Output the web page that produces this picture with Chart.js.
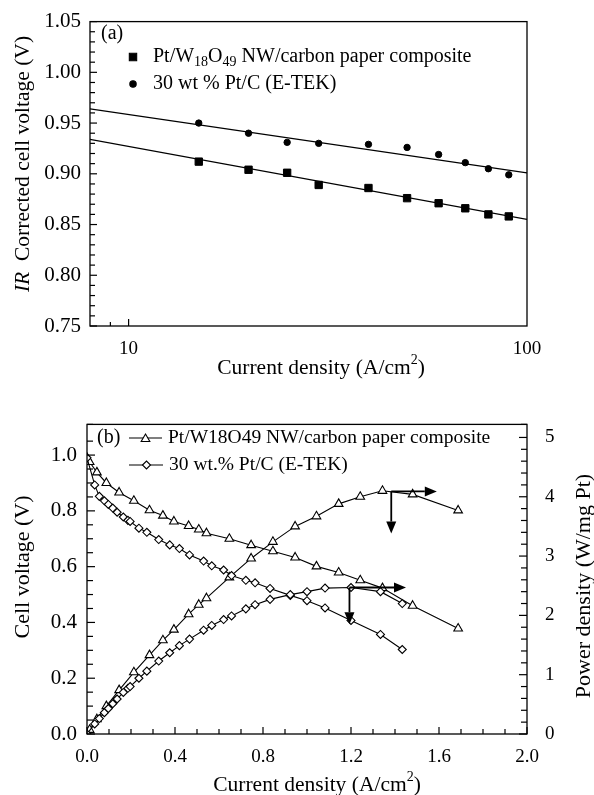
<!DOCTYPE html>
<html>
<head>
<meta charset="utf-8">
<script src="https://cdn.jsdelivr.net/npm/chart.js@4.4.1/dist/chart.umd.min.js"></script>
<style>
  html, body { margin: 0; padding: 0; background: #fff; }
  #wrap { position: relative; width: 594px; height: 795px; }
  canvas { position: absolute; left: 0; }
  #ca { top: 0; }
  #cb { top: 395px; }
</style>
</head>
<body>
<div id="wrap">
  <canvas id="ca" width="594" height="390" style="width:594px;height:390px"></canvas>
  <canvas id="cb" width="594" height="400" style="width:594px;height:400px"></canvas>
</div>
<script>
// ---------- (a) IR corrected cell voltage vs current density (log) ----------
const currentA = [15, 20, 25, 30, 40, 50, 60, 70, 80, 90];
const voltPtW = [0.912, 0.904, 0.901, 0.889, 0.886, 0.876, 0.871, 0.866, 0.860, 0.858];
const voltEtek = [0.950, 0.940, 0.931, 0.930, 0.929, 0.926, 0.919, 0.911, 0.905, 0.899];
// fitted lines, value at both ends of the axis
const fitX = [8, 100];
const fitPtW = [0.934, 0.855];
const fitEtek = [0.964, 0.901];

// ---------- (b) polarization and power density curves ----------
const ptwI = [0, 0.012, 0.045, 0.088, 0.146, 0.213, 0.284, 0.345, 0.395, 0.462, 0.508,
              0.543, 0.647, 0.746, 0.845, 0.946, 1.043, 1.144, 1.242, 1.343, 1.48, 1.687];
const ptwV = [0.99, 0.975, 0.938, 0.900, 0.866, 0.836, 0.802, 0.783, 0.762, 0.746, 0.733,
              0.720, 0.700, 0.677, 0.655, 0.633, 0.601, 0.579, 0.551, 0.523, 0.460, 0.378];
const ptwP = [0, 0.07, 0.25, 0.47, 0.74, 1.04, 1.33, 1.58, 1.76, 2.02, 2.18,
              2.29, 2.64, 2.96, 3.24, 3.50, 3.67, 3.88, 4.00, 4.10, 4.04, 3.77];

const etekI = [0, 0.035, 0.056, 0.079, 0.097, 0.117, 0.137, 0.165, 0.186, 0.196, 0.236,
               0.272, 0.326, 0.376, 0.420, 0.466, 0.530, 0.567, 0.621, 0.657, 0.722,
               0.764, 0.832, 0.924, 1.0, 1.082, 1.20, 1.334, 1.433];
const etekV = [0.99, 0.893, 0.852, 0.836, 0.823, 0.810, 0.795, 0.778, 0.766, 0.762, 0.738,
               0.723, 0.697, 0.678, 0.665, 0.642, 0.620, 0.603, 0.588, 0.568, 0.551,
               0.542, 0.522, 0.497, 0.478, 0.452, 0.407, 0.357, 0.303];
const etekP = [0, 0.17, 0.26, 0.36, 0.43, 0.51, 0.59, 0.70, 0.77, 0.80, 0.94,
               1.06, 1.23, 1.37, 1.49, 1.60, 1.75, 1.83, 1.93, 1.99, 2.11,
               2.18, 2.27, 2.35, 2.40, 2.46, 2.47, 2.40, 2.20];

// arrows pointing to the axis each curve belongs to: [x, power] start, right end x, down end power
const arrowStart = [[1.383, 4.09], [1.193, 2.47]];
const arrowRightTo = [1.59, 1.45];
const arrowDownTo = [3.38, 1.85];

const FONT = '"Liberation Serif", "Times New Roman", serif';
const f = (size, style) => (style ? style + ' ' : '') + size + 'px ' + FONT;

// draw a row of text pieces (mixed fonts), optionally rotated
function textParts(ctx, parts, x, y, rot, align) {
  ctx.save();
  ctx.translate(x, y);
  if (rot) ctx.rotate(rot);
  ctx.fillStyle = '#000';
  ctx.textBaseline = 'middle';
  ctx.textAlign = 'left';
  let w = 0;
  parts.forEach(p => { ctx.font = p.font; w += ctx.measureText(p.text).width; });
  let cx = align === 'left' ? 0 : -w / 2;
  parts.forEach(p => {
    ctx.font = p.font;
    ctx.fillText(p.text, cx, p.dy || 0);
    cx += ctx.measureText(p.text).width;
  });
  ctx.restore();
}

function frame(chart) {
  const a = chart.chartArea, ctx = chart.ctx;
  ctx.save();
  ctx.strokeStyle = '#000';
  ctx.lineWidth = 1.3;
  ctx.strokeRect(a.left, a.top, a.right - a.left, a.bottom - a.top);
  ctx.restore();
}

// tick marks pointing into the plot, longer where there is a label
function inTicks(chart, id, side, majorLen, minorLen, keep) {
  const s = chart.scales[id], a = chart.chartArea, ctx = chart.ctx;
  ctx.save();
  ctx.strokeStyle = '#000';
  ctx.lineWidth = 1.2;
  s.ticks.forEach(t => {
    if (keep && !keep(t.value)) return;
    const p = s.getPixelForValue(t.value);
    const len = t.label !== '' ? majorLen : minorLen;
    ctx.beginPath();
    if (side === 'left') { ctx.moveTo(a.left, p); ctx.lineTo(a.left + len, p); }
    if (side === 'right') { ctx.moveTo(a.right, p); ctx.lineTo(a.right - len, p); }
    if (side === 'bottom') { ctx.moveTo(p, a.bottom); ctx.lineTo(p, a.bottom - len); }
    ctx.stroke();
  });
  ctx.restore();
}

function marker(ctx, style, r, fill, x, y) {
  ctx.save();
  ctx.fillStyle = fill;
  ctx.strokeStyle = '#000';
  ctx.lineWidth = 1.1;
  Chart.helpers.drawPoint(ctx, { pointStyle: style, radius: r, rotation: 0, borderWidth: 1.1 }, x, y);
  ctx.restore();
}

function arrow(ctx, x1, y1, x2, y2) {
  const ang = Math.atan2(y2 - y1, x2 - x1), L = 12, W = 5;
  const bx = x2 - L * Math.cos(ang), by = y2 - L * Math.sin(ang);
  ctx.beginPath();
  ctx.moveTo(x1, y1);
  ctx.lineTo(bx, by);
  ctx.stroke();
  ctx.beginPath();
  ctx.moveTo(x2, y2);
  ctx.lineTo(bx + W * Math.sin(ang), by - W * Math.cos(ang));
  ctx.lineTo(bx - W * Math.sin(ang), by + W * Math.cos(ang));
  ctx.closePath();
  ctx.fill();
}

const xTitle = size => [
  { text: 'Current density (A/cm', font: f(size) },
  { text: '2', font: f(Math.round(size * 0.65)), dy: -8 },
  { text: ')', font: f(size) }
];

const decoA = {
  id: 'decoA',
  afterDraw(chart) {
    const ctx = chart.ctx;
    frame(chart);
    inTicks(chart, 'y', 'left', 7, 5);
    inTicks(chart, 'x', 'bottom', 7, 4, v => v > 8 && v <= 10);
    textParts(ctx, xTitle(21.5), 321, 368);
    textParts(ctx, [
      { text: 'IR', font: f(21.5, 'italic') },
      { text: '  Corrected cell voltage (V)', font: f(21.5) }
    ], 23, 164, -Math.PI / 2);
    textParts(ctx, [{ text: '(a)', font: f(20) }], 101, 34, 0, 'left');
    marker(ctx, 'rect', 5.2, '#000', 133, 57);
    textParts(ctx, [
      { text: 'Pt/W', font: f(20) },
      { text: '18', font: f(14), dy: 5 },
      { text: 'O', font: f(20) },
      { text: '49', font: f(14), dy: 5 },
      { text: ' NW/carbon paper composite', font: f(20) }
    ], 153, 57, 0, 'left');
    marker(ctx, 'circle', 3.2, '#000', 133, 84);
    textParts(ctx, [{ text: '30 wt % Pt/C (E-TEK)', font: f(20) }], 153, 84, 0, 'left');
  }
};

const decoB = {
  id: 'decoB',
  afterDraw(chart) {
    const ctx = chart.ctx, sx = chart.scales.x, sp = chart.scales.y2;
    frame(chart);
    inTicks(chart, 'y', 'left', 8, 6);
    inTicks(chart, 'y2', 'right', 8, 6);
    inTicks(chart, 'x', 'bottom', 7, 5);
    textParts(ctx, xTitle(21.5), 317, 390);
    textParts(ctx, [{ text: 'Cell voltage (V)', font: f(22) }], 23, 172, -Math.PI / 2);
    textParts(ctx, [{ text: 'Power density (W/mg Pt)', font: f(22) }], 584, 191, -Math.PI / 2);

    // legend
    textParts(ctx, [{ text: '(b)', font: f(20) }], 97, 43, 0, 'left');
    ctx.save();
    ctx.strokeStyle = '#000';
    ctx.lineWidth = 1.1;
    ctx.beginPath(); ctx.moveTo(129, 43); ctx.lineTo(162, 43); ctx.stroke();
    ctx.beginPath(); ctx.moveTo(129, 70); ctx.lineTo(163, 70); ctx.stroke();
    ctx.restore();
    marker(ctx, 'triangle', 5, '#fff', 145.5, 44);
    marker(ctx, 'rectRot', 4, '#fff', 146.5, 70);
    textParts(ctx, [{ text: 'Pt/W18O49 NW/carbon paper composite', font: f(19.5) }], 168, 43, 0, 'left');
    textParts(ctx, [{ text: '30 wt.% Pt/C (E-TEK)', font: f(19.5) }], 169, 70, 0, 'left');

    // arrows
    ctx.save();
    ctx.strokeStyle = '#000';
    ctx.fillStyle = '#000';
    ctx.lineWidth = 1.8;
    arrowStart.forEach((s, i) => {
      const x0 = sx.getPixelForValue(s[0]), y0 = sp.getPixelForValue(s[1]);
      arrow(ctx, x0, y0, sx.getPixelForValue(arrowRightTo[i]), y0);
      arrow(ctx, x0, y0, x0, sp.getPixelForValue(arrowDownTo[i]));
    });
    ctx.restore();
  }
};

const xTickFont = { family: FONT, size: 19 };
const yTickFont = { family: FONT, size: 21 };
const noGrid = { display: false, drawTicks: false };
const pts = (xs, ys) => xs.map((x, i) => ({ x: x, y: ys[i] }));

new Chart(document.getElementById('ca'), {
  type: 'scatter',
  data: {
    datasets: [
      { data: pts(fitX, fitEtek), showLine: true, pointRadius: 0, borderColor: '#000', borderWidth: 1.2 },
      { data: pts(fitX, fitPtW), showLine: true, pointRadius: 0, borderColor: '#000', borderWidth: 1.2 },
      { data: pts(currentA, voltPtW), pointStyle: 'rect', pointRadius: 5.2,
        pointBackgroundColor: '#000', pointBorderColor: '#000', pointBorderWidth: 1 },
      { data: pts(currentA, voltEtek), pointStyle: 'circle', pointRadius: 3.2,
        pointBackgroundColor: '#000', pointBorderColor: '#000', pointBorderWidth: 1 }
    ]
  },
  options: {
    responsive: false,
    animation: false,
    events: [],
    layout: { padding: { top: 18, right: 67, left: 0, bottom: 0 } },
    plugins: { legend: { display: false }, tooltip: { enabled: false } },
    scales: {
      x: {
        type: 'logarithmic', min: 8, max: 100,
        grid: noGrid, border: { display: false },
        ticks: {
          autoSkip: false, maxRotation: 0, padding: 12, color: '#000', font: xTickFont,
          callback: v => (Math.abs(v - 10) < 1e-9 || Math.abs(v - 100) < 1e-9) ? String(Math.round(v)) : ''
        },
        afterFit: s => { s.height = 64; }
      },
      y: {
        min: 0.75, max: 1.05,
        grid: noGrid, border: { display: false },
        ticks: {
          stepSize: 0.01, autoSkip: false, padding: 9, color: '#000', font: yTickFont,
          callback: v => Math.round(v * 100) % 5 === 0 ? v.toFixed(2) : ''
        },
        afterFit: s => { s.width = 90; }
      }
    }
  },
  plugins: [decoA]
});

const openTri = { pointStyle: 'triangle', pointRadius: 5, pointBackgroundColor: '#fff',
  pointBorderColor: '#000', pointBorderWidth: 1.1, borderColor: '#000', borderWidth: 1.1, showLine: true };
const openDia = { pointStyle: 'rectRot', pointRadius: 4, pointBackgroundColor: '#fff',
  pointBorderColor: '#000', pointBorderWidth: 1.1, borderColor: '#000', borderWidth: 1.1, showLine: true };

new Chart(document.getElementById('cb'), {
  type: 'scatter',
  data: {
    datasets: [
      Object.assign({ data: pts(etekI, etekP), yAxisID: 'y2' }, openDia),
      Object.assign({ data: pts(etekI, etekV), yAxisID: 'y' }, openDia),
      Object.assign({ data: pts(ptwI, ptwP), yAxisID: 'y2' }, openTri),
      Object.assign({ data: pts(ptwI, ptwV), yAxisID: 'y' }, openTri)
    ]
  },
  options: {
    responsive: false,
    animation: false,
    events: [],
    layout: { padding: { top: 22, right: 0, left: 0, bottom: 0 } },
    plugins: { legend: { display: false }, tooltip: { enabled: false } },
    scales: {
      x: {
        type: 'linear', min: 0, max: 2,
        grid: noGrid, border: { display: false },
        ticks: {
          stepSize: 0.1, autoSkip: false, maxRotation: 0, padding: 12, color: '#000', font: xTickFont,
          callback: v => Math.abs(v / 0.4 - Math.round(v / 0.4)) < 1e-6 ? v.toFixed(1) : ''
        },
        afterFit: s => { s.height = 61; }
      },
      y: {
        position: 'left', min: 0, max: 1.11,
        grid: noGrid, border: { display: false },
        ticks: {
          stepSize: 0.05, autoSkip: false, padding: 10, color: '#000', font: yTickFont,
          callback: v => Math.abs(v / 0.2 - Math.round(v / 0.2)) < 1e-6 ? v.toFixed(1) : ''
        },
        afterFit: s => { s.width = 87; }
      },
      y2: {
        position: 'right', min: 0, max: 5.22,
        grid: noGrid, border: { display: false },
        ticks: {
          stepSize: 0.2, autoSkip: false, padding: 18, color: '#000', font: xTickFont,
          callback: v => Math.abs(v - Math.round(v)) < 1e-6 ? String(Math.round(v)) : ''
        },
        afterFit: s => { s.width = 67; }
      }
    }
  },
  plugins: [decoB]
});
</script>
</body>
</html>
